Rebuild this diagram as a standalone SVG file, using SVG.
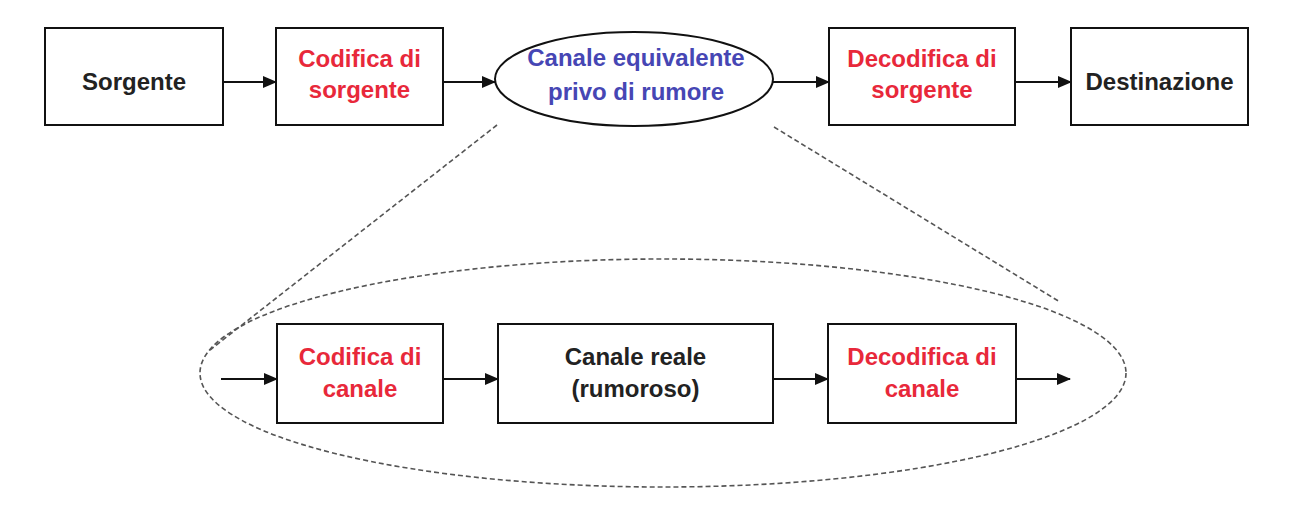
<svg xmlns="http://www.w3.org/2000/svg" width="1303" height="521" viewBox="0 0 1303 521">
<defs>
<marker id="ah" markerWidth="14" markerHeight="12" refX="13" refY="6" orient="auto" markerUnits="userSpaceOnUse">
<path d="M0,0 L14,6 L0,12 Z" fill="#111"/>
</marker>
<style>
.box{fill:#fff;stroke:#111;stroke-width:2}
.t{font-family:"Liberation Sans",Arial,sans-serif;font-size:24px;font-weight:bold;text-anchor:middle}
.k{fill:#222}
.r{fill:#e8283a}
.b{fill:#4646b4}
.c{stroke:#111;stroke-width:2;fill:none;marker-end:url(#ah)}
.d{stroke:#555;stroke-width:1.6;fill:none;stroke-dasharray:5 3}
</style>
</defs>
<rect width="1303" height="521" fill="#fff"/>
<g id="zoom-lines">
<ellipse class="d" cx="663" cy="373" rx="463" ry="114"/>
<line class="d" x1="497" y1="125" x2="210" y2="350"/>
<line class="d" x1="774" y1="127" x2="1060" y2="302"/>
</g>
<g id="connectors">
<line class="c" x1="221" y1="82" x2="276" y2="82"/>
<line class="c" x1="443" y1="82" x2="495" y2="82"/>
<line class="c" x1="773" y1="82" x2="829" y2="82"/>
<line class="c" x1="1015" y1="82" x2="1071" y2="82"/>
<line class="c" x1="221" y1="379" x2="277" y2="379"/>
<line class="c" x1="443" y1="379" x2="498" y2="379"/>
<line class="c" x1="773" y1="379" x2="828" y2="379"/>
<line class="c" x1="1016" y1="379" x2="1070" y2="379"/>
</g>
<g id="sorgente">
<rect class="box" x="45" y="28" width="178" height="97"/>
<text class="t k" x="134" y="90">Sorgente</text>
</g>
<g id="codifica-sorgente">
<rect class="box" x="276" y="28" width="167" height="97"/>
<text class="t r" x="359.5" y="67">Codifica di</text>
<text class="t r" x="359.5" y="98">sorgente</text>
</g>
<g id="canale-equivalente">
<ellipse fill="#fff" stroke="#111" stroke-width="2" cx="634" cy="79" rx="139" ry="47"/>
<text class="t b" x="636" y="66">Canale equivalente</text>
<text class="t b" x="636" y="100">privo di rumore</text>
</g>
<g id="decodifica-sorgente">
<rect class="box" x="829" y="28" width="186" height="97"/>
<text class="t r" x="922" y="67">Decodifica di</text>
<text class="t r" x="922" y="98">sorgente</text>
</g>
<g id="destinazione">
<rect class="box" x="1071" y="28" width="177" height="97"/>
<text class="t k" x="1159.5" y="90">Destinazione</text>
</g>
<g id="codifica-canale">
<rect class="box" x="277" y="324" width="166" height="99"/>
<text class="t r" x="360" y="365">Codifica di</text>
<text class="t r" x="360" y="397">canale</text>
</g>
<g id="canale-reale">
<rect class="box" x="498" y="324" width="275" height="99"/>
<text class="t k" x="635.5" y="365">Canale reale</text>
<text class="t k" x="635.5" y="397">(rumoroso)</text>
</g>
<g id="decodifica-canale">
<rect class="box" x="828" y="324" width="188" height="99"/>
<text class="t r" x="922" y="365">Decodifica di</text>
<text class="t r" x="922" y="397">canale</text>
</g>
</svg>
